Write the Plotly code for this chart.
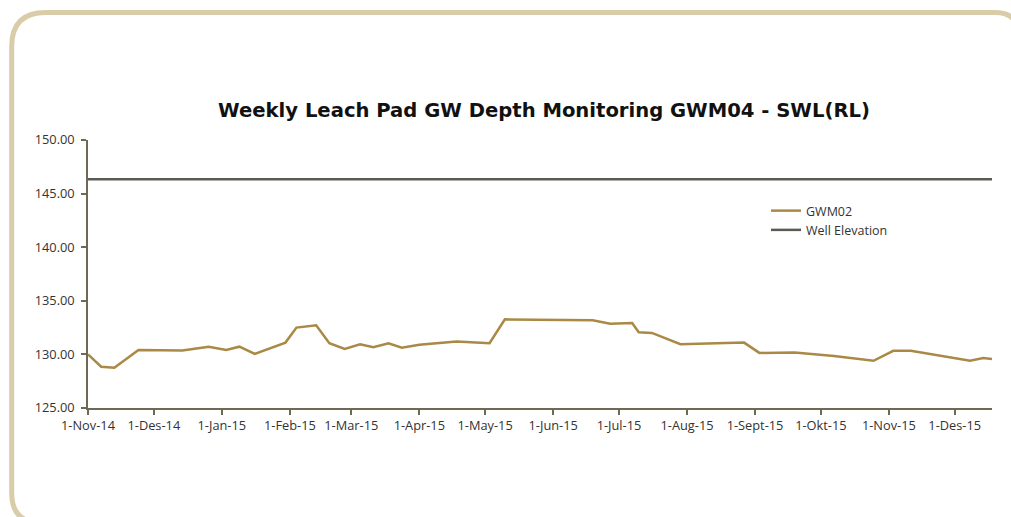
import plotly.graph_objects as go

# ---- data ----
gwm_dates = [
    "2014-11-01", "2014-11-07", "2014-11-13", "2014-11-24", "2014-12-14",
    "2014-12-26", "2015-01-03", "2015-01-09", "2015-01-16", "2015-01-30",
    "2015-02-04", "2015-02-13", "2015-02-19", "2015-02-26", "2015-03-05",
    "2015-03-11", "2015-03-18", "2015-03-24", "2015-04-01", "2015-04-18",
    "2015-05-03", "2015-05-10", "2015-06-19", "2015-06-27", "2015-07-07",
    "2015-07-10", "2015-07-16", "2015-07-29", "2015-08-27", "2015-09-03",
    "2015-09-19", "2015-10-07", "2015-10-25", "2015-11-03", "2015-11-11",
    "2015-12-08", "2015-12-14", "2015-12-18",
]
gwm_values = [
    130.00, 128.85, 128.75, 130.42, 130.36,
    130.72, 130.42, 130.72, 130.05, 131.10,
    132.50, 132.72, 131.04, 130.52, 130.94,
    130.67, 131.04, 130.62, 130.90, 131.20,
    131.05, 133.27, 133.18, 132.85, 132.93,
    132.07, 132.00, 130.95, 131.10, 130.14,
    130.17, 129.86, 129.40, 130.33, 130.33,
    129.40, 129.67, 129.56,
]
well_dates = ["2014-11-01", "2015-12-18"]
well_values = [146.34, 146.34]

tick_dates = [
    "2014-11-01", "2014-12-01", "2015-01-01", "2015-02-01", "2015-03-01",
    "2015-04-01", "2015-05-01", "2015-06-01", "2015-07-01", "2015-08-01",
    "2015-09-01", "2015-10-01", "2015-11-01", "2015-12-01",
]
tick_labels = [
    "1-Nov-14", "1-Des-14", "1-Jan-15", "1-Feb-15", "1-Mar-15",
    "1-Apr-15", "1-May-15", "1-Jun-15", "1-Jul-15", "1-Aug-15",
    "1-Sept-15", "1-Okt-15", "1-Nov-15", "1-Des-15",
]
y_ticks = [125, 130, 135, 140, 145, 150]
y_labels = ["125.00", "130.00", "135.00", "140.00", "145.00", "150.00"]

# ---- layout geometry ----
W, H = 1011, 517
L, R, T, B = 88, 19, 140, 109
PW, PH = W - L - R, H - T - B


def px(x):
    return (x - L) / PW


def py(y):
    return (H - B - y) / PH


FONT = "Open Sans, Lato, DejaVu Sans, sans-serif"
TFONT = "DejaVu Sans, Open Sans, sans-serif"
GOLD = "#a98945"
GREY = "#5b5b56"
AXIS = "#6e6954"
FRAME = "#d9cca8"

fig = go.Figure()
fig.add_trace(go.Scatter(
    x=gwm_dates, y=gwm_values, mode="lines", name="GWM02",
    line=dict(color=GOLD, width=2.5),
))
fig.add_trace(go.Scatter(
    x=well_dates, y=well_values, mode="lines", name="Well Elevation",
    line=dict(color=GREY, width=2.5),
))

# rounded frame
x0, y0, x1, y1 = 11.7, 12.5, 1019, 523
rtl, rtr, rbl = 34, 24, 30
path = (
    f"M {px(x0)},{py(y0 + rtl)} Q {px(x0)},{py(y0)} {px(x0 + rtl)},{py(y0)} "
    f"L {px(x1 - rtr)},{py(y0)} Q {px(x1)},{py(y0)} {px(x1)},{py(y0 + rtr)} "
    f"L {px(x1)},{py(y1)} L {px(x0 + rbl)},{py(y1)} "
    f"Q {px(x0)},{py(y1)} {px(x0)},{py(y1 - rbl)} Z"
)
fig.add_shape(type="path", path=path, xref="paper", yref="paper",
              line=dict(color=FRAME, width=5), layer="below")

fig.update_layout(
    width=W, height=H,
    margin=dict(l=L, r=R, t=T, b=B),
    paper_bgcolor="white", plot_bgcolor="white",
    font=dict(family=FONT, color="#222222", size=12),
    title=dict(
        text="<b>Weekly Leach Pad GW Depth Monitoring GWM04 - SWL(RL)</b>",
        x=544 / W, xanchor="center", xref="container",
        y=1 - 110 / H, yanchor="middle", yref="container",
        font=dict(family=TFONT, size=19.6, color="#111111"),
    ),
    showlegend=True,
    legend=dict(
        x=px(766), y=py(196), xanchor="left", yanchor="top",
        font=dict(family=FONT, size=12.5, color="#333333"),
        bgcolor="rgba(0,0,0,0)", tracegroupgap=0,
    ),
)
fig.update_xaxes(
    type="date", range=["2014-11-01", "2015-12-18"],
    tickmode="array", tickvals=tick_dates, ticktext=tick_labels,
    showgrid=False, zeroline=False,
    showline=True, linecolor=AXIS, linewidth=1.5,
    ticks="outside", ticklen=5, tickcolor=AXIS, tickwidth=1.5,
    tickfont=dict(family=FONT, size=12.8, color="#333333"),
)
fig.update_yaxes(
    range=[125, 150],
    tickmode="array", tickvals=y_ticks, ticktext=y_labels,
    showgrid=False, zeroline=False,
    showline=True, linecolor=AXIS, linewidth=1.5,
    ticks="outside", ticklen=5, tickcolor=AXIS, tickwidth=1.5,
    ticklabelstandoff=4,
    tickfont=dict(family=FONT, size=12.8, color="#333333"),
)

fig.write_html(
    "out.html",
    config={"displayModeBar": False},
    post_script="document.body.style.margin='0';document.body.style.overflow='hidden';",
)
